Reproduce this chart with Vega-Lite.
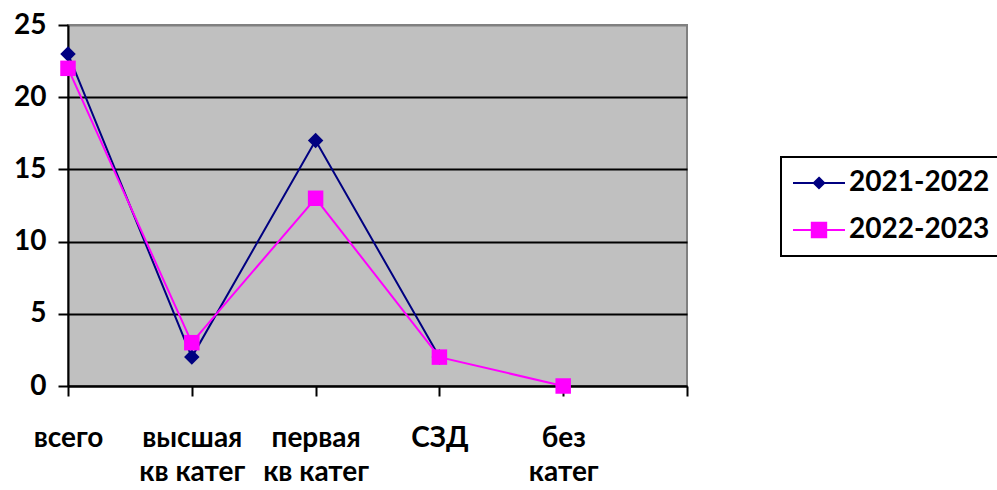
{
  "$schema": "https://vega.github.io/schema/vega-lite/v6.json",
  "width": 619,
  "height": 361,
  "autosize": {"type": "none"},
  "padding": {"left": 68, "top": 25, "right": 310, "bottom": 104},
  "background": "white",
  "config": {
    "view": {"fill": "#c0c0c0", "stroke": "#808080", "strokeWidth": 2},
    "font": "Lato"
  },
  "data": {
    "values": [
      {"cat": "всего", "series": "2021-2022", "value": 23},
      {"cat": "высшая кв катег", "series": "2021-2022", "value": 2},
      {"cat": "первая кв катег", "series": "2021-2022", "value": 17},
      {"cat": "СЗД", "series": "2021-2022", "value": 2},
      {"cat": "всего", "series": "2022-2023", "value": 22},
      {"cat": "высшая кв катег", "series": "2022-2023", "value": 3},
      {"cat": "первая кв катег", "series": "2022-2023", "value": 13},
      {"cat": "СЗД", "series": "2022-2023", "value": 2},
      {"cat": "без катег", "series": "2022-2023", "value": 0}
    ]
  },
  "encoding": {
    "x": {
      "field": "cat",
      "type": "ordinal",
      "sort": null,
      "scale": {"type": "point", "padding": 0, "domain": ["всего", "высшая кв катег", "первая кв катег", "СЗД", "без катег", "_"]},
      "axis": {
        "title": null,
        "labelAngle": 0,
        "labelOverlap": false,
        "domainColor": "black",
        "domainWidth": 2,
        "tickColor": "black",
        "tickWidth": 2,
        "tickSize": 10,
        "labelFont": "Lato",
        "labelFontSize": 28,
        "labelFontWeight": "bold",
        "labelColor": "black",
        "labelPadding": 28,
        "labelLineHeight": 34,
        "labelExpr": "datum.value == '_' ? '' : (datum.value == 'всего' || datum.value == 'СЗД') ? datum.value : [slice(datum.value, 0, indexof(datum.value, ' ')), slice(datum.value, indexof(datum.value, ' ') + 1)]"
      }
    },
    "y": {
      "field": "value",
      "type": "quantitative",
      "scale": {"domain": [0, 25], "nice": false},
      "axis": {
        "title": null,
        "values": [0, 5, 10, 15, 20, 25],
        "grid": true,
        "gridColor": {"condition": {"test": "datum.value == 25", "value": "#808080"}, "value": "black"},
        "gridWidth": 2,
        "domainColor": "black",
        "domainWidth": 2,
        "tickColor": "black",
        "tickWidth": 2,
        "tickSize": 10,
        "labelFont": "Lato",
        "labelFontSize": 28,
        "labelFontWeight": "bold",
        "labelColor": "black",
        "labelPadding": 12
      }
    },
    "color": {
      "field": "series",
      "type": "nominal",
      "scale": {"domain": ["2021-2022", "2022-2023"], "range": ["#000080", "#ff00ff"]},
      "legend": {
        "orient": "none",
        "legendX": 713,
        "legendY": 132,
        "title": null,
        "padding": 12,
        "rowPadding": 19,
        "symbolOffset": 12,
        "labelOffset": 16,
        "symbolSize": 256,
        "symbolStrokeWidth": 2,
        "labelFont": "Lato",
        "labelFontSize": 28,
        "labelFontWeight": "bold",
        "labelColor": "black",
        "strokeColor": "black",
        "encode": {
          "legend": {"update": {"strokeWidth": {"value": 2}}},
          "symbols": {
            "update": {
              "shape": {"signal": "datum.value == '2021-2022' ? 'M-3.25,0H3.25M0,-0.65L0.65,0L0,0.65L-0.65,0Z' : 'M-3.25,0H3.25M-0.9,-0.9H0.9V0.9H-0.9Z'"},
              "fill": {"signal": "datum.value == '2021-2022' ? '#000080' : '#ff00ff'"},
              "stroke": {"signal": "datum.value == '2021-2022' ? '#000080' : '#ff00ff'"},
              "strokeWidth": {"value": 2},
              "size": {"value": 256},
              "opacity": {"value": 1}
            }
          }
        }
      }
    }
  },
  "layer": [
    {"mark": {"type": "line", "strokeWidth": 2}},
    {
      "mark": {"type": "point", "filled": true, "opacity": 1, "size": 240},
      "encoding": {
        "shape": {"condition": {"test": "datum.series == '2021-2022'", "value": "diamond"}, "value": "square"}
      }
    }
  ]
}
